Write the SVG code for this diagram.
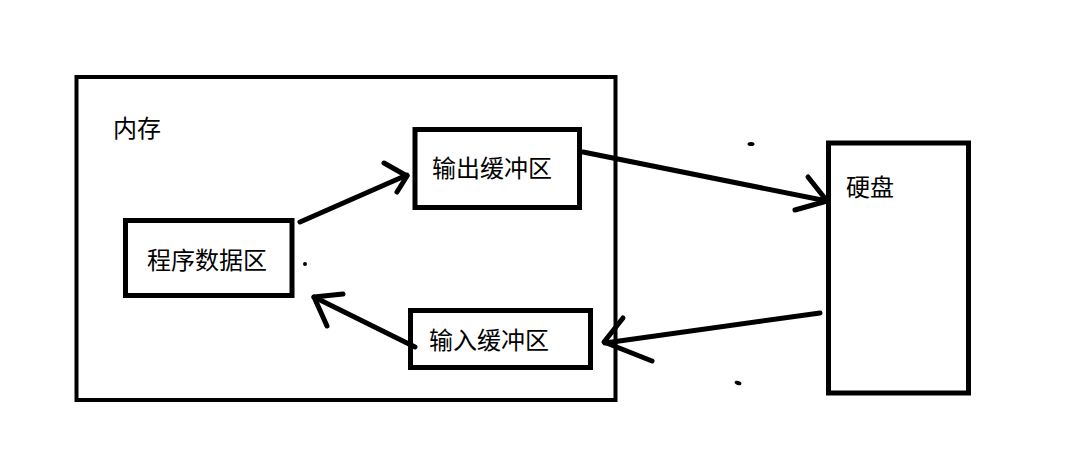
<svg xmlns="http://www.w3.org/2000/svg" width="1073" height="469" viewBox="0 0 1073 469">
<style>
.box{fill:none;stroke:#000;stroke-width:5}
.outer{fill:none;stroke:#000;stroke-width:4}
.lbl{font-family:"Noto Sans CJK SC","Microsoft YaHei",sans-serif;font-size:24px;fill:#000}
.conn path{fill:none;stroke:#000;stroke-width:5;stroke-linecap:round;stroke-linejoin:round}
</style>
<rect width="1073" height="469" fill="#fff"/>
<g id="memory">
<rect class="outer" x="76.5" y="77" width="539" height="323"/>
<text class="lbl" x="113" y="137">内存</text>
</g>
<g id="program-data">
<rect class="box" x="125.5" y="220.5" width="166.5" height="75"/>
<text class="lbl" x="147" y="269">程序数据区</text>
</g>
<g id="output-buffer">
<rect class="box" x="415" y="129.5" width="164.5" height="78"/>
<text class="lbl" x="432" y="177">输出缓冲区</text>
</g>
<g id="input-buffer">
<rect class="box" x="410.5" y="310.5" width="180" height="57"/>
<text class="lbl" x="429" y="349">输入缓冲区</text>
</g>
<g id="disk">
<rect class="box" x="828.5" y="143" width="140" height="250"/>
<text class="lbl" x="846" y="196">硬盘</text>
</g>
<g class="conn" id="connectors">
<path d="M300 222 L407 175"/>
<path d="M384 163 L407 176 L397 192"/>
<path d="M583 152 L827 201"/>
<path d="M808 177 L827 201 L795 210"/>
<path d="M820 313 L605 343"/>
<path d="M623 318 L604 342 L652 361"/>
<path d="M415 347 L314 297"/>
<path d="M343 294 L314 297 L327 326"/>
</g>
<g id="specks" fill="#000">
<circle cx="305" cy="264" r="2"/>
<ellipse cx="751" cy="144" rx="3.5" ry="2"/>
<ellipse cx="738" cy="383" rx="3.5" ry="2" transform="rotate(20 738 383)"/>
</g>
</svg>
